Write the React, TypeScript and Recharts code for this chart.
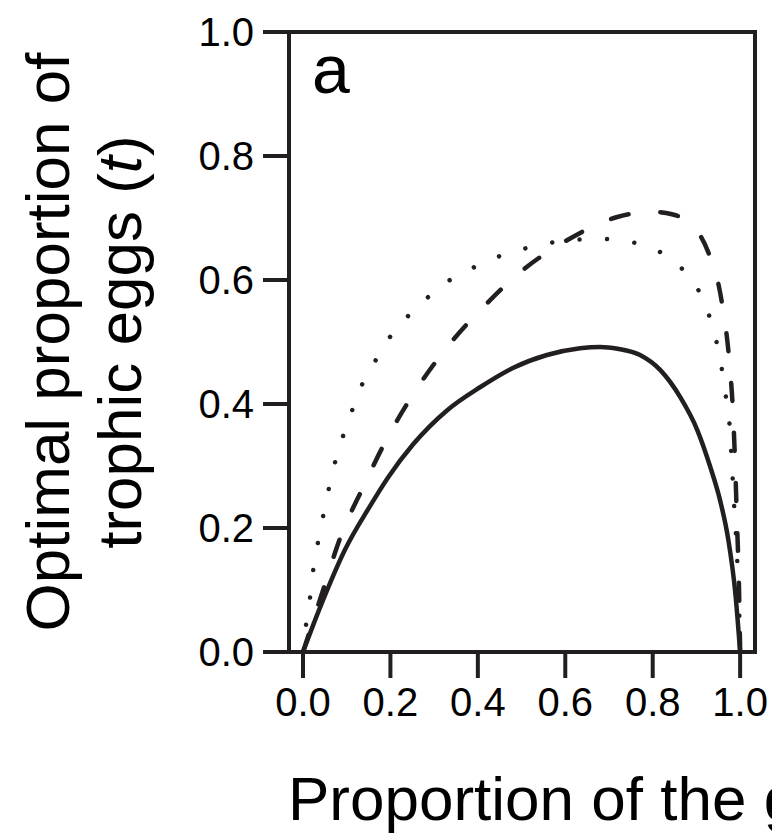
import { LineChart, Line, XAxis, YAxis, ReferenceArea, Customized } from 'recharts';

// curves: p = proportion (x), t = optimal trophic egg proportion (y)
const solidCurve = [
  { p: 0, t: 0 }, { p: 0.023, t: 0.043 }, { p: 0.046, t: 0.084 }, { p: 0.096, t: 0.165 },
  { p: 0.153, t: 0.235 }, { p: 0.195, t: 0.282 }, { p: 0.252, t: 0.335 }, { p: 0.33, t: 0.39 },
  { p: 0.405, t: 0.427 }, { p: 0.48, t: 0.458 }, { p: 0.558, t: 0.479 }, { p: 0.634, t: 0.49 },
  { p: 0.68, t: 0.492 }, { p: 0.72, t: 0.489 }, { p: 0.771, t: 0.479 }, { p: 0.817, t: 0.455 },
  { p: 0.863, t: 0.411 }, { p: 0.902, t: 0.358 }, { p: 0.931, t: 0.3 }, { p: 0.954, t: 0.245 },
  { p: 0.973, t: 0.181 }, { p: 0.989, t: 0.095 }, { p: 1.0, t: 0 },
];

const dashedCurve = [
  { p: 0, t: 0 }, { p: 0.046, t: 0.1 }, { p: 0.085, t: 0.184 }, { p: 0.137, t: 0.265 },
  { p: 0.192, t: 0.344 }, { p: 0.256, t: 0.42 }, { p: 0.33, t: 0.492 }, { p: 0.412, t: 0.556 },
  { p: 0.503, t: 0.616 }, { p: 0.606, t: 0.665 }, { p: 0.721, t: 0.702 }, { p: 0.8, t: 0.71 },
  { p: 0.844, t: 0.706 }, { p: 0.867, t: 0.7 }, { p: 0.927, t: 0.645 }, { p: 0.959, t: 0.56 },
  { p: 0.975, t: 0.471 }, { p: 0.984, t: 0.382 }, { p: 0.989, t: 0.294 }, { p: 0.993, t: 0.205 },
  { p: 0.997, t: 0.116 }, { p: 1.0, t: 0 },
];

const dottedCurve = [
  { p: 0, t: 0 }, { p: 0.007, t: 0.044 }, { p: 0.016, t: 0.087 }, { p: 0.023, t: 0.13 },
  { p: 0.034, t: 0.176 }, { p: 0.046, t: 0.219 }, { p: 0.059, t: 0.263 }, { p: 0.073, t: 0.305 },
  { p: 0.091, t: 0.347 }, { p: 0.112, t: 0.389 }, { p: 0.135, t: 0.431 }, { p: 0.165, t: 0.469 },
  { p: 0.197, t: 0.506 }, { p: 0.238, t: 0.54 }, { p: 0.284, t: 0.571 }, { p: 0.332, t: 0.598 },
  { p: 0.387, t: 0.619 }, { p: 0.444, t: 0.637 }, { p: 0.503, t: 0.65 }, { p: 0.565, t: 0.66 },
  { p: 0.627, t: 0.665 }, { p: 0.691, t: 0.666 }, { p: 0.753, t: 0.661 }, { p: 0.812, t: 0.647 },
  { p: 0.863, t: 0.621 }, { p: 0.902, t: 0.587 }, { p: 0.927, t: 0.547 }, { p: 0.945, t: 0.503 },
  { p: 0.957, t: 0.461 }, { p: 0.966, t: 0.418 }, { p: 0.975, t: 0.374 }, { p: 0.979, t: 0.329 },
  { p: 0.986, t: 0.24 }, { p: 0.993, t: 0.153 }, { p: 0.998, t: 0.065 }, { p: 1.0, t: 0 },
];

const xTicks = [0, 0.2, 0.4, 0.6, 0.8, 1.0];
const yTicks = [0, 0.2, 0.4, 0.6, 0.8, 1.0];
const xDomain = [-0.032, 1.034];

const INK = '#231f20';
const FONT = '"Liberation Sans", Arial, Helvetica, sans-serif';

function Annotations() {
  return (
    <g fontFamily={FONT} fill="#000">
      <text x={312} y={93} fontSize={68}>a</text>
      <text transform="rotate(-90)" x={-342} y={69} fontSize={62} textAnchor="middle">
        Optimal proportion of
      </text>
      <text transform="rotate(-90)" x={-342} y={141} fontSize={62} textAnchor="middle">
        trophic eggs (<tspan fontStyle="italic">t</tspan>)
      </text>
      <text x={288} y={820} fontSize={62}>Proportion of the g</text>
    </g>
  );
}

export default function App() {
  return (
    <div style={{ position: 'fixed', top: 0, left: 0, width: 772, height: 834, overflow: 'hidden', background: '#fff' }}>
      <LineChart
        width={772}
        height={834}
        margin={{ top: 32, right: 17, bottom: 122, left: 209 }}
      >
        <XAxis
          type="number"
          dataKey="p"
          domain={xDomain}
          ticks={xTicks}
          interval={0}
          allowDataOverflow
          height={60}
          axisLine={false}
          tickSize={26}
          tickMargin={10}
          tickLine={{ stroke: INK, strokeWidth: 4 }}
          tick={{ fill: '#000', fontSize: 40, fontFamily: FONT }}
          tickFormatter={(v: number) => v.toFixed(1)}
        />
        <YAxis
          type="number"
          dataKey="t"
          domain={[0, 1]}
          ticks={yTicks}
          interval={0}
          allowDataOverflow
          width={80}
          axisLine={false}
          tickSize={26}
          tickMargin={9}
          tickLine={{ stroke: INK, strokeWidth: 4 }}
          tick={{ fill: '#000', fontSize: 40, fontFamily: FONT }}
          tickFormatter={(v: number) => v.toFixed(1)}
        />
        <Line
          data={dottedCurve}
          dataKey="t"
          type="monotone"
          stroke={INK}
          strokeWidth={4.5}
          strokeDasharray="0.01 27.5"
          strokeLinecap="round"
          dot={false}
          activeDot={false}
          isAnimationActive={false}
        />
        <Line
          data={dashedCurve}
          dataKey="t"
          type="monotone"
          stroke={INK}
          strokeWidth={4.5}
          strokeDasharray="18 32"
          strokeLinecap="round"
          dot={false}
          activeDot={false}
          isAnimationActive={false}
        />
        <Line
          data={solidCurve}
          dataKey="t"
          type="monotone"
          stroke={INK}
          strokeWidth={4.5}
          dot={false}
          activeDot={false}
          isAnimationActive={false}
        />
        <ReferenceArea
          x1={xDomain[0]}
          x2={xDomain[1]}
          y1={0}
          y2={1}
          fill="none"
          fillOpacity={0}
          stroke={INK}
          strokeWidth={4}
          ifOverflow="visible"
        />
        <Customized component={Annotations} />
      </LineChart>
    </div>
  );
}
